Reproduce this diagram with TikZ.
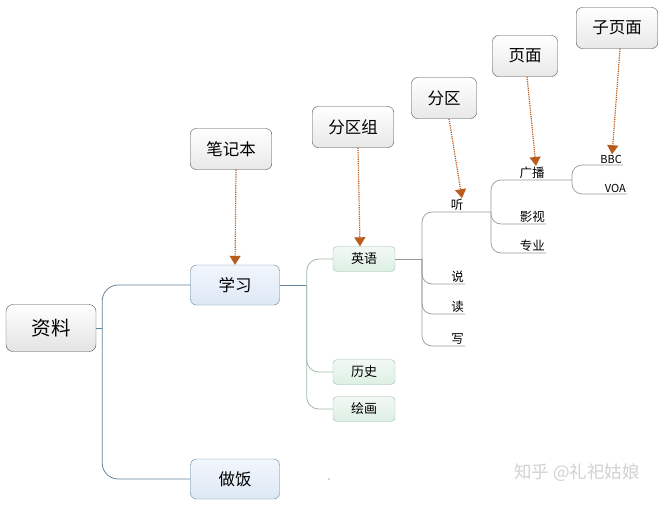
\documentclass[tikz,border=0pt]{standalone}
\usepackage{fontspec}
\setmainfont{Noto Sans CJK SC}
\usetikzlibrary{arrows.meta, positioning, calc}

\definecolor{notelink}{HTML}{B95C1D}
\definecolor{mainline}{HTML}{62829A}
\definecolor{greenline}{HTML}{9CBDA6}
\definecolor{bluetop}{HTML}{F2F6FC}
\definecolor{bluebot}{HTML}{DDE8F5}
\definecolor{greentop}{HTML}{F2F9F4}
\definecolor{greenbot}{HTML}{DDEFE3}

\tikzset{
  callout/.style={draw=black!70, rounded corners=6pt, top color=white, bottom color=black!9,
    minimum height=41pt, inner xsep=16pt, font=\fontsize{16.5}{18}\selectfont},
  root/.style={draw=black!70, rounded corners=7pt, top color=white, bottom color=black!11,
    minimum width=90pt, minimum height=47pt, font=\fontsize{19.5}{22}\selectfont},
  notebook/.style={draw=mainline, rounded corners=6pt, top color=bluetop, bottom color=bluebot,
    minimum width=89pt, minimum height=40pt, font=\fontsize{16.5}{18}\selectfont},
  group/.style={draw=greenline, rounded corners=4pt, top color=greentop, bottom color=greenbot,
    minimum width=62pt, minimum height=25pt, font=\fontsize{13}{15}\selectfont},
  leaf/.style={inner sep=1pt, font=\fontsize{12.5}{14}\selectfont},
  mainlink/.style={draw=mainline, line width=0.8pt, rounded corners=16pt},
  grouplink/.style={draw=greenline, line width=0.8pt, rounded corners=12pt},
  leaflink/.style={draw=black!40, line width=0.7pt, rounded corners=10pt},
  notearrow/.style={draw=notelink, line width=1.2pt, dash pattern=on 1.2pt off 1pt,
    -{Triangle[width=11pt,length=9pt]}}
}

\begin{document}
\begin{tikzpicture}[x=1pt, y=-1pt]
    \useasboundingbox (0,0) rectangle (666,504);

    % tree nodes
    \node[root] (ziliao) at (51,328) {资料};
    \node[notebook] (xuexi) at (235,285) {学习};
    \node[notebook] (zuofan) at (235,479) {做饭};

    \node[group] (yingyu) at (364,259) {英语};
    \node[group] (lishi) at (364,372) {历史};
    \node[group] (huihua) at (364,409) {绘画};

    \path (422,259) coordinate (j-yy);
    \node[leaf, anchor=south] (ting) at (457,212) {听};
    \node[leaf, anchor=south east] (shuo) at (465,284) {说};
    \node[leaf, anchor=south east] (du) at (465,314) {读};
    \node[leaf, anchor=south east] (xie) at (465,346) {写};

    \path (491,212) coordinate (j-ting);
    \node[leaf, anchor=south] (guangbo) at (532,180) {广播};
    \node[leaf, anchor=south east] (yingshi) at (546,224) {影视};
    \node[leaf, anchor=south east] (zhuanye) at (546,253) {专业};

    \path (572,180) coordinate (j-gb);
    \node[leaf, anchor=south east, font=\fontsize{11}{13}\selectfont] (bbc) at (623,165) {BBC};
    \node[leaf, anchor=south east, font=\fontsize{11}{13}\selectfont] (voa) at (627,194) {VOA};

    % legend boxes
    \node[callout] (bijiben) at (231,149) {笔记本};
    \node[callout] (fenquzu) at (353,127) {分区组};
    \node[callout] (fenqu) at (444,98) {分区};
    \node[callout] (yemian) at (525,56) {页面};
    \node[callout] (ziyemian) at (617,28) {子页面};

    % branches
    \draw[mainlink] (ziliao.east) -- ++(6,0) coordinate (j-zl);
    \draw[mainlink] (j-zl) |- (xuexi.west);
    \draw[mainlink] (j-zl) |- (zuofan.west);

    \draw[mainlink] (xuexi.east) -- ++(27,0) coordinate (j-xx);
    \draw[grouplink] (j-xx) |- (yingyu.west);
    \draw[grouplink] (j-xx) |- (lishi.west);
    \draw[grouplink] (j-xx) |- (huihua.west);

    \draw[leaflink] (yingyu.east) -- (j-yy);
    \draw[leaflink] (j-yy) |- (ting.south) -- (j-ting);
    \draw[leaflink] (j-yy) |- (shuo.south east);
    \draw[leaflink] (j-yy) |- (du.south east);
    \draw[leaflink] (j-yy) |- (xie.south east);

    \draw[leaflink] (j-ting) |- (guangbo.south) -- (j-gb);
    \draw[leaflink] (j-ting) |- (yingshi.south east);
    \draw[leaflink] (j-ting) |- (zhuanye.south east);

    \draw[leaflink] (j-gb) |- (bbc.south east);
    \draw[leaflink] (j-gb) |- (voa.south east);

    % dotted pointers
    \draw[notearrow] ([xshift=5pt]bijiben.south) -- (xuexi.north);
    \draw[notearrow] ([xshift=5pt]fenquzu.south) -- ([xshift=-4pt]yingyu.north);
    \draw[notearrow] ([xshift=5pt]fenqu.south) -- ([xshift=5pt]ting.north);
    \draw[notearrow] ([xshift=2pt]yemian.south) -- ([xshift=4pt]guangbo.north);
    \draw[notearrow] ([xshift=3pt]ziyemian.south) -- ([xshift=1pt]bbc.north);

    \fill[black!70] (329,479) circle (0.7);
    \node[text=black!18, font=\fontsize{17.5}{20}\selectfont] (mark) at (577,473) {知乎 @礼祀姑娘};
\end{tikzpicture}
\end{document}
